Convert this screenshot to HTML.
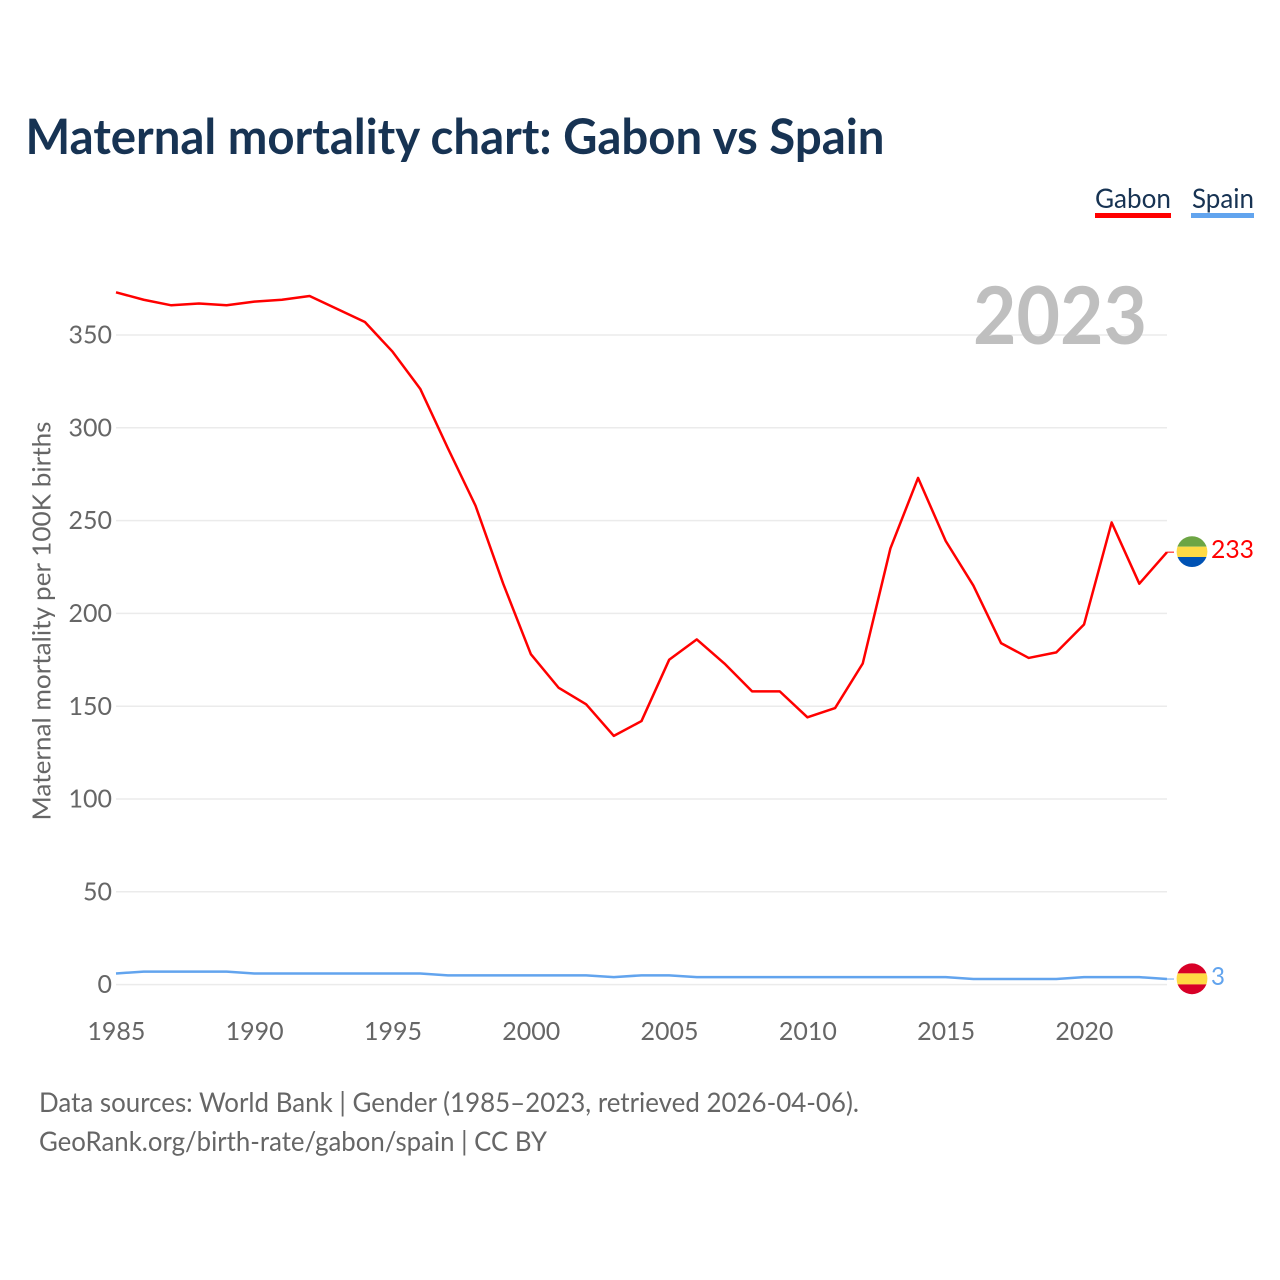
<!DOCTYPE html>
<html lang="en">
<head>
<meta charset="utf-8">
<title>Maternal mortality chart: Gabon vs Spain</title>
<style>
html,body{margin:0;padding:0;background:#fff;width:1280px;height:1280px;overflow:hidden}
svg{display:block}
text{font-family:"Lato","Carlito","Liberation Sans",sans-serif}
</style>
</head>
<body>
<svg id="chart" width="1280" height="1280" viewBox="0 0 1280 1280" xmlns="http://www.w3.org/2000/svg">
  <defs>
    <clipPath id="flag-clip-gabon"><circle id="clip-gabon" cx="1192" cy="551.6" r="15.4"></circle></clipPath>
    <clipPath id="flag-clip-spain"><circle id="clip-spain" cx="1192" cy="978.8" r="15.4"></circle></clipPath>
  </defs>
  <rect width="1280" height="1280" fill="#fff"></rect>
  <text x="25.5" y="154" font-size="49" font-weight="700" fill="#173353" textLength="859" lengthAdjust="spacingAndGlyphs">Maternal mortality chart: Gabon vs Spain</text>

  <g id="grid"></g>
  <g id="y-ticks"></g>
  <g id="x-ticks"></g>
  <text transform="translate(50.5,621) rotate(-90)" text-anchor="middle" font-size="25" fill="#666" textLength="399" lengthAdjust="spacingAndGlyphs">Maternal mortality per 100K births</text>

  <text x="1147" y="344" text-anchor="end" font-size="80" font-weight="700" fill="#bfbfbf" textLength="174" lengthAdjust="spacingAndGlyphs">2023</text>

  <g>
    <text x="1095" y="208" font-size="27" fill="#173353" textLength="76" lengthAdjust="spacingAndGlyphs">Gabon</text>
    <rect x="1095" y="213" width="76" height="5" fill="#ff0000"></rect>
    <text x="1192" y="208" font-size="27" fill="#173353" textLength="62" lengthAdjust="spacingAndGlyphs">Spain</text>
    <rect x="1191" y="213" width="63" height="5" fill="#62a4ee"></rect>
  </g>

  <g id="series"></g>

  <g clip-path="url(#flag-clip-gabon)">
    <rect x="1176" y="536" width="32" height="10.7" fill="#6da544"></rect>
    <rect x="1176" y="546.7" width="32" height="10.3" fill="#ffda44"></rect>
    <rect x="1176" y="557" width="32" height="11" fill="#0052b4"></rect>
  </g>
  <g clip-path="url(#flag-clip-spain)">
    <rect x="1176" y="963" width="32" height="10.4" fill="#d80027"></rect>
    <rect x="1176" y="973.4" width="32" height="11" fill="#ffda44"></rect>
    <rect x="1176" y="984.4" width="32" height="10.6" fill="#d80027"></rect>
  </g>

  <text id="gabon-end" x="1211" y="558" font-size="25.5" fill="#ff0000" textLength="43" lengthAdjust="spacingAndGlyphs"></text>
  <text id="spain-end" x="1211" y="985" font-size="25.5" fill="#62a4ee" textLength="14" lengthAdjust="spacingAndGlyphs"></text>

  <text x="39" y="1112" font-size="27" fill="#666" textLength="820" lengthAdjust="spacingAndGlyphs">Data sources: World Bank | Gender (1985–2023, retrieved 2026-04-06).</text>
  <text x="39" y="1151" font-size="27" fill="#666" textLength="508" lengthAdjust="spacingAndGlyphs">GeoRank.org/birth-rate/gabon/spain | CC BY</text>
</svg>
<script>
const years = [1985,1986,1987,1988,1989,1990,1991,1992,1993,1994,1995,1996,1997,1998,1999,2000,2001,2002,2003,2004,2005,2006,2007,2008,2009,2010,2011,2012,2013,2014,2015,2016,2017,2018,2019,2020,2021,2022,2023];
const gabonValues = [373,369,366,367,366,368,369,371,364,357,341,321,289,258,216,178,160,151,134,142,175,186,173,158,158,144,149,173,235,273,239,215,184,176,179,194,249,216,233];
const spainValues = [6,7,7,7,7,6,6,6,6,6,6,6,5,5,5,5,5,5,4,5,5,4,4,4,4,4,4,4,4,4,4,3,3,3,3,4,4,4,3];
const yTickValues = [0,50,100,150,200,250,300,350];
const xTickValues = [1985,1990,1995,2000,2005,2010,2015,2020];

const NS = 'http://www.w3.org/2000/svg';
function xScale(year){ return 116 + (year - 1985) * (1084 - 116) / 35; }
function yScale(v){ return 984.6 - v * (984.6 - 335) / 350; }

const gridG = document.getElementById('grid');
const yG = document.getElementById('y-ticks');
const xG = document.getElementById('x-ticks');
const seriesG = document.getElementById('series');

yTickValues.forEach(function(v){
  const line = document.createElementNS(NS,'line');
  
  
  line.setAttribute('x1', 116);
  line.setAttribute('x2', 1167);
  line.setAttribute('y1', yScale(v));
  line.setAttribute('y2', yScale(v));
  line.setAttribute('stroke', '#ebebeb');
  line.setAttribute('stroke-width', '1.5');
  gridG.appendChild(line);
  const t = document.createElementNS(NS,'text');
  
  
  t.setAttribute('x', 112);
  t.setAttribute('y', yScale(v) + 8.6);
  t.setAttribute('text-anchor', 'end');
  t.setAttribute('font-size', '25');
  t.setAttribute('fill', '#666');
  t.textContent = v;
  yG.appendChild(t);
});

xTickValues.forEach(function(y){
  const t = document.createElementNS(NS,'text');
  
  
  t.setAttribute('x', xScale(y) + 0.4);
  t.setAttribute('y', 1040);
  t.setAttribute('text-anchor', 'middle');
  t.setAttribute('font-size', '25');
  t.setAttribute('fill', '#666');
  t.textContent = y;
  xG.appendChild(t);
});

function drawSeries(values, color, name){
  const p = document.createElementNS(NS,'polyline');
  
  
  p.setAttribute('points', values.map(function(v,i){ return xScale(years[i]).toFixed(2) + ',' + yScale(v).toFixed(2); }).join(' '));
  p.setAttribute('fill', 'none');
  p.setAttribute('stroke', color);
  p.setAttribute('stroke-width', '2.5');
  p.setAttribute('stroke-linejoin', 'round');
  seriesG.appendChild(p);
  const last = values[values.length - 1];
  const c = document.createElementNS(NS,'line');
  
  
  c.setAttribute('x1', xScale(years[years.length - 1]));
  c.setAttribute('x2', 1174);
  c.setAttribute('y1', yScale(last));
  c.setAttribute('y2', yScale(last));
  c.setAttribute('stroke', color);
  c.setAttribute('stroke-width', '1');
  seriesG.appendChild(c);
}
drawSeries(gabonValues, '#ff0000', 'gabon');
drawSeries(spainValues, '#62a4ee', 'spain');

document.getElementById('gabon-end').textContent = gabonValues[gabonValues.length - 1];
document.getElementById('spain-end').textContent = spainValues[spainValues.length - 1];
</script>
</body>
</html>
